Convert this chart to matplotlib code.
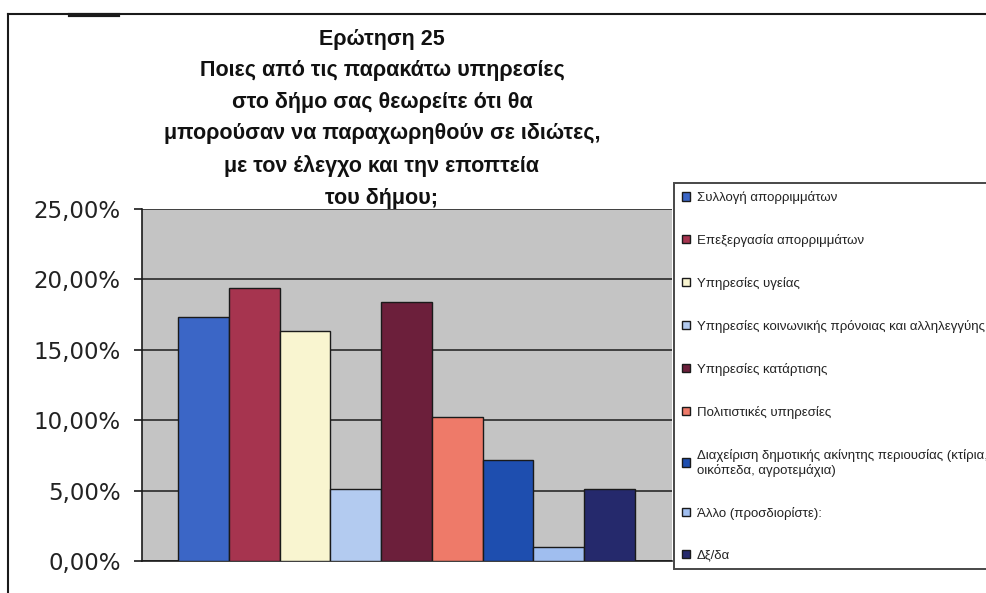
import matplotlib
matplotlib.use("Agg")
import matplotlib.pyplot as plt
from matplotlib.patches import Patch
from matplotlib.lines import Line2D
from matplotlib.ticker import FuncFormatter

plt.rcParams['font.family'] = ['Liberation Sans', 'DejaVu Sans']

# answers to question 25 (share of responses)
categories = [
    "Συλλογή απορριμμάτων",
    "Επεξεργασία απορριμμάτων",
    "Υπηρεσίες υγείας",
    "Υπηρεσίες κοινωνικής πρόνοιας και αλληλεγγύης",
    "Υπηρεσίες κατάρτισης",
    "Πολιτιστικές υπηρεσίες",
    "Διαχείριση δημοτικής ακίνητης περιουσίας (κτίρια,\nοικόπεδα, αγροτεμάχια)",
    "Άλλο (προσδιορίστε):",
    "Δξ/δα",
]
shares = [17.35, 19.39, 16.33, 5.10, 18.37, 10.20, 7.14, 1.02, 5.10]
colors = ["#3B66C6", "#A6344F", "#F9F5D0", "#B3CBF0", "#6C1F3B",
          "#EE7A69", "#1E4EAF", "#A0BEEF", "#25296C"]
y_ticks = [0, 5, 10, 15, 20, 25]

title = ("Ερώτηση 25\nΠοιες από τις παρακάτω υπηρεσίες\nστο δήμο σας θεωρείτε ότι θα\n"
         "μπορούσαν να παραχωρηθούν σε ιδιώτες,\nμε τον έλεγχο και την εποπτεία\nτου δήμου;")

W, H = 987, 593
fig = plt.figure(figsize=(W / 100, H / 100), dpi=100)
fig.patch.set_facecolor("white")

ax = fig.add_axes([142 / W, 1 - 561 / H, 530 / W, 352 / H])
ax.set_facecolor("#C4C4C4")

x = list(range(len(shares)))
ax.bar(x, shares, width=1.0, color=colors, edgecolor="#1a1a1a", linewidth=1.0, zorder=3)

ax.set_xlim(-1.21, 9.23)
ax.set_ylim(0, 25)
ax.set_yticks(y_ticks)
ax.yaxis.set_major_formatter(FuncFormatter(lambda v, p: f"{v:.2f}%".replace(".", ",")))
ax.tick_params(axis='y', length=5.8, width=1.2, pad=9.5, colors="#1a1a1a")
for lbl in ax.get_yticklabels():
    lbl.set_fontfamily("DejaVu Sans")
    lbl.set_fontsize(16.5)
    lbl.set_color("#222222")
ax.set_xticks([])
ax.grid(axis='y', color="#2a2a2a", linewidth=1.2, zorder=1)
ax.set_axisbelow(True)

for s in ['top', 'right']:
    ax.spines[s].set_visible(False)
for s in ['left', 'bottom']:
    ax.spines[s].set_linewidth(1.2)
    ax.spines[s].set_color("#1a1a1a")

fig.text(382 / W, 1 - 29 / H, title, ha="center", va="top", fontsize=15.5,
         fontweight="bold", linespacing=1.65, color="#111111")

handles = [Patch(facecolor=c, edgecolor="#1a1a1a", linewidth=1.0) for c in colors]
leg = fig.legend(handles, categories, loc="upper left",
                 bbox_to_anchor=(674 / W, 1 - 183 / H), fontsize=9.5,
                 frameon=True, fancybox=False, edgecolor="#1a1a1a",
                 handlelength=0.62, handleheight=0.62, handletextpad=0.5,
                 labelspacing=2.27, borderpad=0.6, borderaxespad=0)
leg.get_frame().set_linewidth(1.4)
for t in leg.get_texts():
    t.set_color("#222222")

# outer chart frame
fig.add_artist(Line2D([8 / W, 1], [1 - 14 / H, 1 - 14 / H], color="#1a1a1a", linewidth=1.5))
fig.add_artist(Line2D([8 / W, 8 / W], [0, 1 - 14 / H], color="#1a1a1a", linewidth=1.5))
fig.add_artist(Line2D([70 / W, 118 / W], [1 - 15 / H, 1 - 15 / H], color="#1a1a1a", linewidth=3))

fig.savefig("out.png", dpi=100)
